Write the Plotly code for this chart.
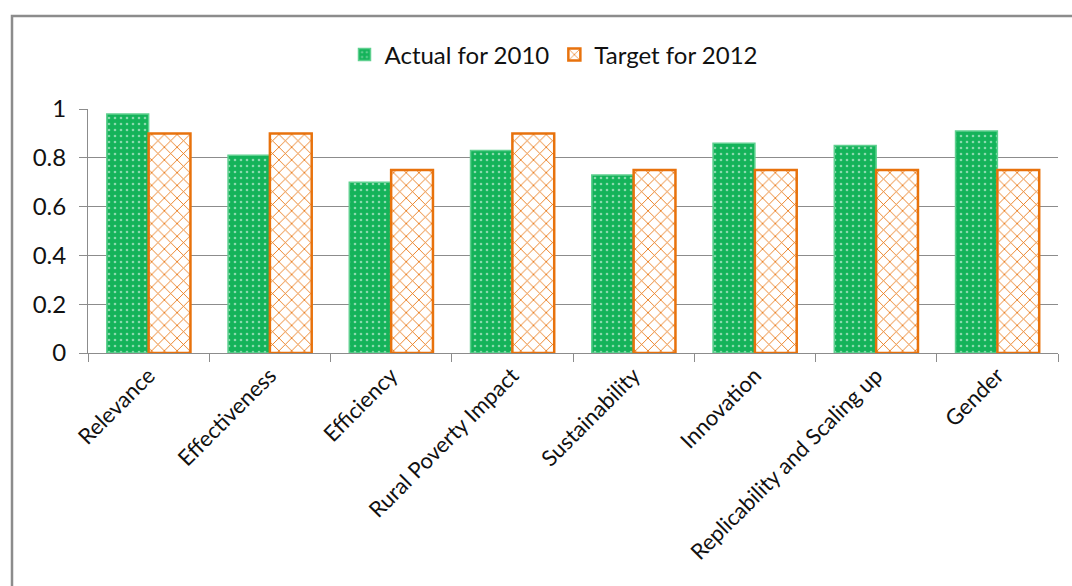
import plotly.graph_objects as go

categories = ["Relevance", "Effectiveness", "Efficiency", "Rural Poverty Impact",
              "Sustainability", "Innovation", "Replicability and Scaling up", "Gender"]
actual_2010 = [0.98, 0.81, 0.70, 0.83, 0.73, 0.86, 0.85, 0.91]
target_2012 = [0.90, 0.90, 0.75, 0.90, 0.75, 0.75, 0.75, 0.75]
y_ticks = [0, 0.2, 0.4, 0.6, 0.8, 1]
y_tick_labels = ["0", "0.2", "0.4", "0.6", "0.8", "1"]

GREEN = "#14B35A"
ORANGE = "#E8720C"
FONT = "Lato"
TXT = "#111111"

fig = go.Figure()
fig.add_trace(go.Bar(
    x=categories, y=actual_2010, name="Actual for 2010",
    marker=dict(color=GREEN,
                line=dict(color="#5FD08F", width=1.5),
                pattern=dict(shape=".", fgcolor="white", size=6, solidity=0.15,
                             fillmode="overlay")),
))
fig.add_trace(go.Bar(
    x=categories, y=target_2012, name="Target for 2012",
    marker=dict(color="white",
                line=dict(color=ORANGE, width=2.5),
                pattern=dict(shape="x", fgcolor=ORANGE, bgcolor="white", size=9,
                             solidity=0.18, fillmode="replace")),
))

L, R, T, B = 88, 14, 109, 233
W, H = 1072, 586
pw, ph = W - L - R, H - T - B

def px_x(p):
    return (p - L) / pw

def px_y(p):
    return (H - B - p) / ph

fig.update_layout(
    width=W, height=H,
    margin=dict(l=L, r=R, t=T, b=B),
    paper_bgcolor="white", plot_bgcolor="white",
    barmode="group", bargap=0.31, bargroupgap=0,
    font=dict(family=FONT, size=22, color=TXT),
    showlegend=True,
    legend=dict(orientation="h", x=px_x(554), xanchor="center", y=px_y(55), yanchor="middle",
                font=dict(family=FONT, size=24, color=TXT),
                traceorder="normal", itemwidth=30, bgcolor="rgba(0,0,0,0)"),
    xaxis=dict(type="category", tickangle=-45, ticks="outside", tickson="boundaries",
               ticklen=8, tickcolor="#8C8C8C", showline=True, linecolor="#8C8C8C",
               linewidth=1, showgrid=False, tickfont=dict(family=FONT, size=22, color=TXT)),
    yaxis=dict(range=[0, 1], tickvals=y_ticks, ticktext=y_tick_labels, ticks="outside",
               ticklen=8, tickcolor="#8C8C8C", showline=True, linecolor="#8C8C8C",
               linewidth=1, showgrid=True, gridcolor="#8C8C8C", gridwidth=1,
               zeroline=False, tickfont=dict(family=FONT, size=24, color=TXT),
               ticklabelstandoff=8),
    shapes=[dict(type="rect", xref="paper", yref="paper",
                 x0=px_x(12), x1=px_x(1085), y0=px_y(600), y1=px_y(16),
                 line=dict(color="#8C8C8C", width=2.5), fillcolor="rgba(0,0,0,0)",
                 layer="below")],
)

fig.write_html("out.html")
